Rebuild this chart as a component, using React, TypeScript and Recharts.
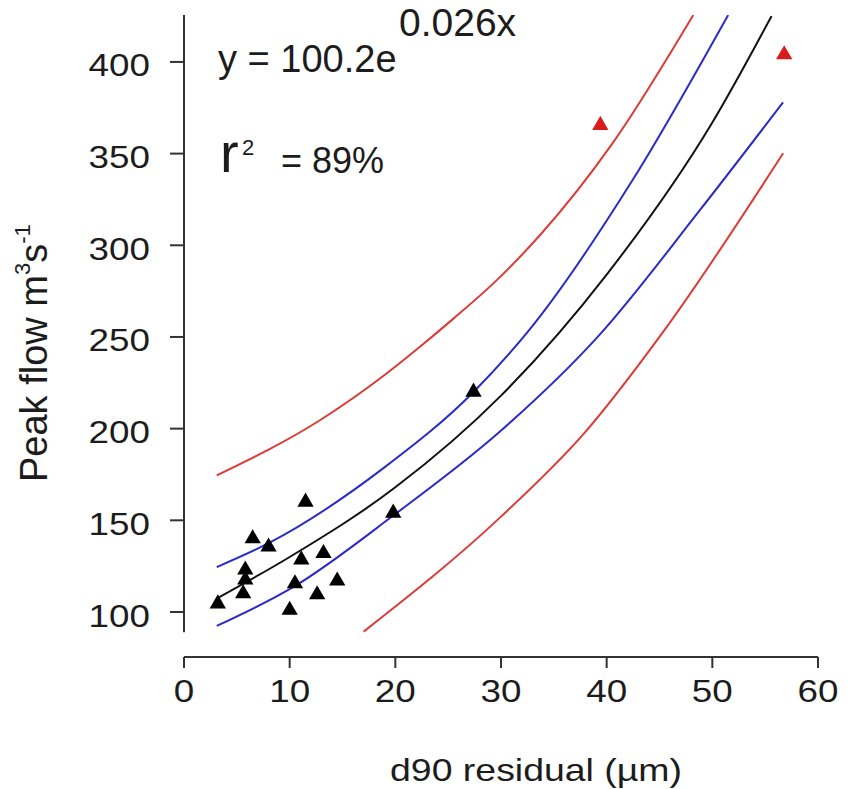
import React from 'react';
import { ComposedChart, Line, Scatter, XAxis, YAxis, ZAxis, ReferenceLine, Customized } from 'recharts';

// axis ticks
const xTicks = [0, 10, 20, 30, 40, 50, 60];
const yTicks = [100, 150, 200, 250, 300, 350, 400];

// observed peak flows (black) and the two outliers (red)
const obsX = [3.2, 5.8, 5.8, 5.6, 6.5, 8.0, 11.5, 11.1, 13.2, 10.5, 14.5, 12.6, 10.0, 19.8, 27.4];
const obsY = [104.5, 123, 117.5, 110, 140, 135.5, 160, 128.5, 132, 115.5, 117, 109.5, 101, 154, 220];
const outX = [39.4, 56.8];
const outY = [365.5, 404];

// fitted curve and bands
const fitX = [3.3, 10, 20, 30, 40, 50, 55.6];
const fitY = [108, 130, 168, 218, 284, 367, 425];
const confHiX = [3.1, 8, 19, 27.4, 32.7, 42.5, 51.5];
const confHiY = [124.5, 137.5, 179, 220, 254, 336, 425.6];
const confLoX = [3.1, 10.4, 19.9, 29.9, 39.3, 48.8, 56.7];
const confLoY = [92.4, 113.8, 153, 198.4, 251, 319, 378];
const predHiX = [3.1, 12.9, 19.2, 22.3, 25.5, 29.6, 33.7, 40.6, 48.2];
const predHiY = [174.5, 204.7, 230.2, 244.5, 260, 281, 305.6, 356, 425.6];
const predLoX = [17, 30, 37.8, 45.5, 56.7];
const predLoY = [89.3, 152, 197, 254, 350.2];

const toPoints = (xs: number[], ys: number[]) => xs.map((x, i) => ({ x, y: ys[i] }));

const FONT = '"Liberation Sans", Arial, Helvetica, sans-serif';
const INK = '#1c1c1c';
const AXIS = '#333';
const RED = '#dc3b36';
const BLUE = '#2b2bc8';

const YTick = (props: any) => {
  const { x, y, payload } = props;
  return (
    <text transform={`translate(${x},${y + 3}) scale(1.15,1)`} textAnchor="end" dy="0.36em"
      fontSize={32} fontFamily={FONT} fill={INK}>
      {payload.value}
    </text>
  );
};

const XTick = (props: any) => {
  const { x, y, payload } = props;
  return (
    <text transform={`translate(${x},${y + 32}) scale(1.15,1)`} textAnchor="middle"
      fontSize={32} fontFamily={FONT} fill={INK}>
      {payload.value}
    </text>
  );
};

const Notes = () => (
  <g fontFamily={FONT} fill={INK}>
    <text x={218} y={72} fontSize={38}>y = 100.2e</text>
    <text x={399} y={36} fontSize={39}>0.026x</text>
    <text x={220} y={172} fontSize={56}>r</text>
    <text x={242} y={155} fontSize={22}>2</text>
    <text x={281} y={173} fontSize={36}>= 89%</text>
    <text transform="translate(536,781) scale(1.17,1)" textAnchor="middle" fontSize={32}>d90 residual (µm)</text>
    <text transform="translate(47,482) rotate(-90)" fontSize={38}>
      Peak flow m<tspan fontSize={22} dy={-17}>3</tspan><tspan dy={17}>s</tspan>
      <tspan fontSize={22} dy={-17}>-1</tspan>
    </text>
  </g>
);

export default function App() {
  return (
    <div style={{ position: 'absolute', left: 0, top: 0, background: '#fff' }}>
      <ComposedChart width={848} height={789} margin={{ top: 15, right: 30, bottom: 72, left: 84 }}>
        <XAxis type="number" dataKey="x" domain={[0, 60]} ticks={xTicks} height={60}
          allowDataOverflow tickSize={11} tickMargin={2}
          axisLine={{ stroke: AXIS, strokeWidth: 2 }} tickLine={{ stroke: AXIS, strokeWidth: 2 }}
          tick={<XTick />} />
        <YAxis type="number" dataKey="y" domain={[75.45, 425.6]} ticks={yTicks} width={100}
          allowDataOverflow tickSize={14} tickMargin={20} axisLine={false}
          tickLine={{ stroke: AXIS, strokeWidth: 2 }} tick={<YTick />} />
        <ZAxis range={[115, 115]} />
        <ReferenceLine segment={[{ x: 0, y: 89 }, { x: 0, y: 425.6 }]} stroke={AXIS} strokeWidth={2} ifOverflow="visible" />
        <Line data={toPoints(predHiX, predHiY)} dataKey="y" type="monotone" stroke={RED} strokeWidth={2} dot={false} isAnimationActive={false} />
        <Line data={toPoints(predLoX, predLoY)} dataKey="y" type="monotone" stroke={RED} strokeWidth={2} dot={false} isAnimationActive={false} />
        <Line data={toPoints(confHiX, confHiY)} dataKey="y" type="monotone" stroke={BLUE} strokeWidth={2} dot={false} isAnimationActive={false} />
        <Line data={toPoints(confLoX, confLoY)} dataKey="y" type="monotone" stroke={BLUE} strokeWidth={2} dot={false} isAnimationActive={false} />
        <Line data={toPoints(fitX, fitY)} dataKey="y" type="monotone" stroke="#111" strokeWidth={2} dot={false} isAnimationActive={false} />
        <Scatter data={toPoints(obsX, obsY)} shape="triangle" fill="#000" isAnimationActive={false} />
        <Scatter data={toPoints(outX, outY)} shape="triangle" fill="#d81c1c" isAnimationActive={false} />
        <Customized component={Notes} />
      </ComposedChart>
    </div>
  );
}
